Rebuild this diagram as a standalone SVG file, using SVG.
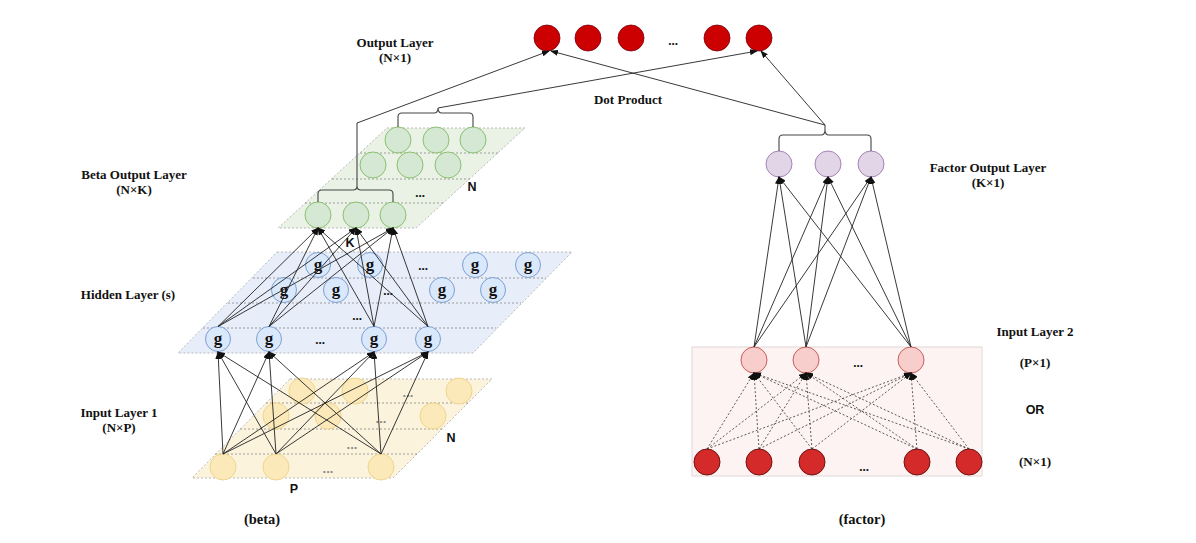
<svg xmlns="http://www.w3.org/2000/svg" width="1196" height="543" viewBox="0 0 1196 543">
<style>
.lbl{font-family:"Liberation Serif",serif;font-weight:bold;font-size:13px;fill:#111;text-anchor:middle}
.sans{font-family:"Liberation Sans",sans-serif;font-weight:bold;font-size:12.5px;fill:#111;text-anchor:middle}
.g{font-family:"Liberation Serif",serif;font-weight:bold;font-size:17px;fill:#111;text-anchor:middle}
.dots{font-family:"Liberation Serif",serif;font-weight:bold;font-size:13px;fill:#111;text-anchor:middle}
.dy{font-family:"Liberation Sans",sans-serif;font-weight:bold;font-size:13px;fill:#888;text-anchor:middle}
.pl{stroke:#aaa;stroke-width:0.8;stroke-dasharray:2 2}
.row{stroke:#888;stroke-width:0.8;stroke-dasharray:2 2;fill:none}
.cg{fill:#d5e8d4;stroke:#8cc070;stroke-width:1}
.cb{fill:#dae8fc;stroke:#7d9fd0;stroke-width:1}
.cy{fill:#fbe9b9;stroke:#efd58e;stroke-width:1}
.cp{fill:#e1d5e7;stroke:#a585b5;stroke-width:1}
.cpk{fill:#f8cecc;stroke:#c8605c;stroke-width:1}
.cr{fill:#d42a2a;stroke:#6e1212;stroke-width:1}
.co{fill:#cc0000;stroke:#7a0010;stroke-width:0.8}
.e{stroke:#222;stroke-width:0.9;fill:none;marker-end:url(#a)}
.ed{stroke:#333;stroke-width:0.8;fill:none;stroke-dasharray:2 2;marker-end:url(#a)}
.br{stroke:#444;stroke-width:1.1;fill:none}
</style>
<defs>
<marker id="a" markerWidth="8" markerHeight="6" refX="7" refY="3" orient="auto" markerUnits="userSpaceOnUse">
<path d="M0,0 L8,3 L0,6 Z" fill="#111"/>
</marker>
</defs>
<rect width="1196" height="543" fill="#fff"/>

<!-- planes -->
<g id="plane-input1">
<polygon points="290,379 492,379 393,478 192,478" fill="#fcf3dc" class="pl"/>
<line class="row" x1="266" y1="403" x2="468" y2="403"/>
<line class="row" x1="240" y1="429" x2="442" y2="429"/>
<line class="row" x1="215" y1="454" x2="417" y2="454"/>
</g>
<g id="plane-hidden">
<polygon points="277,252 572,252 473,353 178,353" fill="#e7eefa" class="pl"/>
<line class="row" x1="253" y1="278" x2="546" y2="278"/>
<line class="row" x1="228" y1="303" x2="521" y2="303"/>
<line class="row" x1="203" y1="328" x2="496" y2="328"/>
</g>
<g id="plane-beta">
<polygon points="387,128 525,128 416,228 278,228" fill="#e9f2e5" class="pl"/>
<line class="row" x1="360" y1="153" x2="498" y2="153"/>
<line class="row" x1="332" y1="179" x2="470" y2="179"/>
<line class="row" x1="305" y1="203" x2="443" y2="203"/>
</g>
<g id="box-input2">
<rect x="692" y="347" width="290" height="129" fill="#fdf3f2" stroke="#e2d8d8" stroke-width="1"/>
</g>

<!-- nodes: output layer -->
<g id="output-layer">
<circle class="co" cx="547" cy="38" r="13"/>
<circle class="co" cx="588" cy="38" r="13"/>
<circle class="co" cx="631" cy="38" r="13"/>
<text class="dots" x="673" y="45">...</text>
<circle class="co" cx="717" cy="38" r="13"/>
<circle class="co" cx="759" cy="38" r="13"/>
</g>

<!-- beta output -->
<g id="beta-output">
<circle class="cg" cx="398" cy="140" r="13"/>
<circle class="cg" cx="436" cy="140" r="13"/>
<circle class="cg" cx="473" cy="140" r="13"/>
<circle class="cg" cx="373" cy="165" r="13"/>
<circle class="cg" cx="410" cy="165" r="13"/>
<circle class="cg" cx="448" cy="165" r="13"/>
<text class="dots" x="420" y="197">...</text>
<circle class="cg" cx="318" cy="215" r="13"/>
<circle class="cg" cx="356" cy="215" r="13"/>
<circle class="cg" cx="393" cy="215" r="13"/>
<text class="sans" x="472" y="191">N</text>
<text class="sans" x="350" y="247">K</text>
</g>

<!-- hidden -->
<g id="hidden-layer">
<circle class="cb" cx="318" cy="265" r="12.5"/><text class="g" x="318" y="270">g</text>
<circle class="cb" cx="370" cy="265" r="12.5"/><text class="g" x="370" y="270">g</text>
<text class="dots" x="423" y="270">...</text>
<circle class="cb" cx="475" cy="265" r="12.5"/><text class="g" x="475" y="270">g</text>
<circle class="cb" cx="528" cy="265" r="12.5"/><text class="g" x="528" y="270">g</text>
<circle class="cb" cx="284" cy="290" r="12.5"/><text class="g" x="284" y="295">g</text>
<circle class="cb" cx="336" cy="290" r="12.5"/><text class="g" x="336" y="295">g</text>
<text class="dots" x="388" y="295">...</text>
<circle class="cb" cx="442" cy="290" r="12.5"/><text class="g" x="442" y="295">g</text>
<circle class="cb" cx="493" cy="290" r="12.5"/><text class="g" x="493" y="295">g</text>
<text class="dots" x="357" y="320">...</text>
<circle class="cb" cx="218" cy="339" r="12.5"/><text class="g" x="218" y="344">g</text>
<circle class="cb" cx="269" cy="339" r="12.5"/><text class="g" x="269" y="344">g</text>
<text class="dots" x="320" y="344">...</text>
<circle class="cb" cx="374" cy="339" r="12.5"/><text class="g" x="374" y="344">g</text>
<circle class="cb" cx="428" cy="339" r="12.5"/><text class="g" x="428" y="344">g</text>
</g>

<!-- input layer 1 -->
<g id="input-layer-1">
<circle class="cy" cx="302" cy="391" r="13"/>
<circle class="cy" cx="355" cy="391" r="13"/>
<text class="dy" x="408" y="397">...</text>
<circle class="cy" cx="459" cy="391" r="13"/>
<circle class="cy" cx="276" cy="416" r="13"/>
<circle class="cy" cx="328" cy="416" r="13"/>
<text class="dy" x="381" y="423">...</text>
<circle class="cy" cx="433" cy="416" r="13"/>
<text class="dy" x="352" y="449">...</text>
<circle class="cy" cx="223" cy="467" r="13"/>
<circle class="cy" cx="276" cy="467" r="13"/>
<text class="dy" x="328" y="473">...</text>
<circle class="cy" cx="381" cy="467" r="13"/>
<text class="sans" x="451" y="442">N</text>
<text class="sans" x="294" y="493">P</text>
</g>

<!-- factor output -->
<g id="factor-output">
<circle class="cp" cx="779" cy="164" r="13"/>
<circle class="cp" cx="828" cy="164" r="13"/>
<circle class="cp" cx="871" cy="164" r="13"/>
</g>

<!-- input layer 2 -->
<g id="input-layer-2-p">
<circle class="cpk" cx="754" cy="360" r="13"/>
<circle class="cpk" cx="806" cy="360" r="13"/>
<text class="dots" x="858" y="367">...</text>
<circle class="cpk" cx="911" cy="360" r="13"/>
</g>
<g id="input-layer-2-n">
<circle class="cr" cx="707" cy="462" r="13"/>
<circle class="cr" cx="759" cy="462" r="13"/>
<circle class="cr" cx="812" cy="462" r="13"/>
<text class="dots" x="864" y="471">...</text>
<circle class="cr" cx="917" cy="462" r="13"/>
<circle class="cr" cx="969" cy="462" r="13"/>
</g>

<!-- connectors -->
<g id="connectors">
<line class="e" x1="223" y1="454" x2="218" y2="352"/>
<line class="e" x1="223" y1="454" x2="269" y2="352"/>
<line class="e" x1="223" y1="454" x2="374" y2="352"/>
<line class="e" x1="223" y1="454" x2="428" y2="352"/>
<line class="e" x1="276" y1="454" x2="218" y2="352"/>
<line class="e" x1="276" y1="454" x2="269" y2="352"/>
<line class="e" x1="276" y1="454" x2="374" y2="352"/>
<line class="e" x1="276" y1="454" x2="428" y2="352"/>
<line class="e" x1="381" y1="454" x2="218" y2="352"/>
<line class="e" x1="381" y1="454" x2="269" y2="352"/>
<line class="e" x1="381" y1="454" x2="374" y2="352"/>
<line class="e" x1="381" y1="454" x2="428" y2="352"/>
<line class="e" x1="218" y1="326.5" x2="318" y2="228"/>
<line class="e" x1="218" y1="326.5" x2="356" y2="228"/>
<line class="e" x1="218" y1="326.5" x2="393" y2="228"/>
<line class="e" x1="269" y1="326.5" x2="318" y2="228"/>
<line class="e" x1="269" y1="326.5" x2="356" y2="228"/>
<line class="e" x1="269" y1="326.5" x2="393" y2="228"/>
<line class="e" x1="374" y1="326.5" x2="318" y2="228"/>
<line class="e" x1="374" y1="326.5" x2="356" y2="228"/>
<line class="e" x1="374" y1="326.5" x2="393" y2="228"/>
<line class="e" x1="428" y1="326.5" x2="318" y2="228"/>
<line class="e" x1="428" y1="326.5" x2="356" y2="228"/>
<line class="e" x1="428" y1="326.5" x2="393" y2="228"/>
<path class="br" d="M318,202 L318,194 Q318,190 322,190 L353,190 Q357,190 357,186 Q357,190 361,190 L389,190 Q393,190 393,194 L393,202"/>
<path class="br" d="M357,186 L357,123"/>
<path class="br" d="M398,127 L398,117 Q398,113 402,113 L434,113 Q438,113 438,108 Q438,113 442,113 L469,113 Q473,113 473,117 L473,127"/>
<path class="br" d="M779,151 L779,139 Q779,135 783,135 L821,135 Q825,135 825,130 L825,125 M825,130 Q825,135 829,135 L867,135 Q871,135 871,139 L871,151"/>
<line class="e" x1="357" y1="123" x2="549" y2="51"/>
<line class="e" x1="438" y1="108" x2="757" y2="51"/>
<line class="e" x1="825" y1="125" x2="551" y2="51"/>
<line class="e" x1="825" y1="125" x2="761" y2="51"/>
<line class="e" x1="754" y1="347" x2="779" y2="177"/>
<line class="e" x1="754" y1="347" x2="828" y2="177"/>
<line class="e" x1="754" y1="347" x2="871" y2="177"/>
<line class="e" x1="806" y1="347" x2="779" y2="177"/>
<line class="e" x1="806" y1="347" x2="828" y2="177"/>
<line class="e" x1="806" y1="347" x2="871" y2="177"/>
<line class="e" x1="911" y1="347" x2="779" y2="177"/>
<line class="e" x1="911" y1="347" x2="828" y2="177"/>
<line class="e" x1="911" y1="347" x2="871" y2="177"/>
<line class="ed" x1="707" y1="449" x2="754" y2="373"/>
<line class="ed" x1="707" y1="449" x2="806" y2="373"/>
<line class="ed" x1="707" y1="449" x2="911" y2="373"/>
<line class="ed" x1="759" y1="449" x2="754" y2="373"/>
<line class="ed" x1="759" y1="449" x2="806" y2="373"/>
<line class="ed" x1="759" y1="449" x2="911" y2="373"/>
<line class="ed" x1="812" y1="449" x2="754" y2="373"/>
<line class="ed" x1="812" y1="449" x2="806" y2="373"/>
<line class="ed" x1="812" y1="449" x2="911" y2="373"/>
<line class="ed" x1="917" y1="449" x2="754" y2="373"/>
<line class="ed" x1="917" y1="449" x2="806" y2="373"/>
<line class="ed" x1="917" y1="449" x2="911" y2="373"/>
<line class="ed" x1="969" y1="449" x2="754" y2="373"/>
<line class="ed" x1="969" y1="449" x2="806" y2="373"/>
<line class="ed" x1="969" y1="449" x2="911" y2="373"/>
</g>

<!-- labels -->
<g id="labels">
<text class="lbl" x="395" y="47">Output Layer</text>
<text class="lbl" x="395" y="62">(N×1)</text>
<text class="lbl" x="628" y="104">Dot Product</text>
<text class="lbl" x="134" y="179">Beta Output Layer</text>
<text class="lbl" x="134" y="194">(N×K)</text>
<text class="lbl" x="128" y="299">Hidden Layer (s)</text>
<text class="lbl" x="119" y="417">Input Layer 1</text>
<text class="lbl" x="119" y="432">(N×P)</text>
<text class="lbl" x="988" y="172">Factor Output Layer</text>
<text class="lbl" x="988" y="187">(K×1)</text>
<text class="lbl" x="1035" y="336">Input Layer 2</text>
<text class="lbl" x="1035" y="367">(P×1)</text>
<text class="sans" x="1035" y="414">OR</text>
<text class="lbl" x="1035" y="466">(N×1)</text>
<text class="lbl" x="262" y="524" style="font-size:14.5px">(beta)</text>
<text class="lbl" x="862" y="524" style="font-size:14.5px">(factor)</text>
</g>
</svg>
